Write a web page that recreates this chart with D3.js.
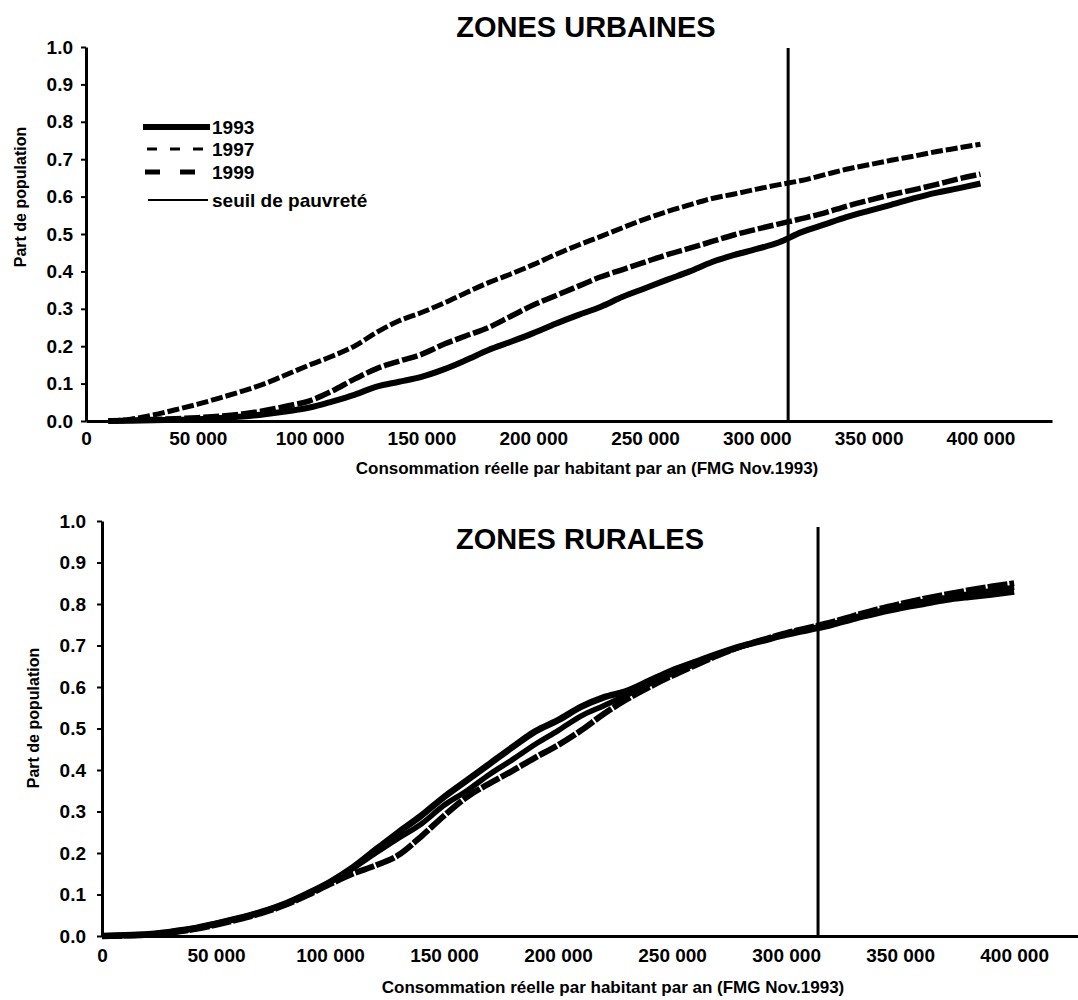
<!DOCTYPE html>
<html lang="fr">
<head>
<meta charset="UTF-8">
<title>Consommation réelle par habitant - zones urbaines et rurales</title>
<script src="https://d3js.org/d3.v7.min.js"></script>
<style>
  body { margin: 0; background: #fff; }
  svg text { font-family: "Liberation Sans", Arial, sans-serif; font-weight: bold; fill: #000; }
</style>
</head>
<body>
<svg id="chart" width="1078" height="1000"></svg>
<script>
// consommation par habitant (FMG Nov.1993) - grille commune aux courbes
var conso = [0, 10000, 20000, 30000, 40000, 50000, 60000, 70000, 80000, 90000,
             100000, 110000, 120000, 130000, 140000, 150000, 160000, 170000, 180000, 190000,
             200000, 210000, 220000, 230000, 240000, 250000, 260000, 270000, 280000, 290000,
             300000, 310000, 320000, 330000, 340000, 350000, 360000, 370000, 380000, 390000, 400000];

// part de population (cumulée) - zones urbaines
var urbain1993 = [null, 0, 0.001, 0.002, 0.003, 0.005, 0.008, 0.012, 0.018, 0.026,
                  0.036, 0.052, 0.07, 0.092, 0.105, 0.118, 0.138, 0.163, 0.19, 0.212,
                  0.235, 0.26, 0.283, 0.305, 0.332, 0.355, 0.378, 0.4, 0.425, 0.444,
                  0.46, 0.478, 0.505, 0.525, 0.545, 0.562, 0.578, 0.595, 0.61, 0.622, 0.635];
var urbain1997 = [null, 0, 0.005, 0.016, 0.03, 0.045, 0.062, 0.08, 0.1, 0.125,
                  0.15, 0.173, 0.2, 0.237, 0.268, 0.29, 0.315, 0.343, 0.37, 0.393,
                  0.418, 0.445, 0.47, 0.493, 0.517, 0.54, 0.56, 0.578, 0.595, 0.607,
                  0.62, 0.632, 0.643, 0.658, 0.673, 0.685, 0.697, 0.708, 0.72, 0.73, 0.74];
var urbain1999 = [null, 0, 0.002, 0.004, 0.006, 0.009, 0.013, 0.019, 0.028, 0.04,
                  0.054, 0.08, 0.112, 0.14, 0.16, 0.178, 0.205, 0.228, 0.25, 0.28,
                  0.31, 0.335, 0.36, 0.385, 0.405, 0.425, 0.445, 0.462, 0.48, 0.498,
                  0.513, 0.527, 0.541, 0.556, 0.574, 0.59, 0.605, 0.618, 0.632, 0.647, 0.66];

// part de population (cumulée) - zones rurales
var rural1993 = [0, 0.002, 0.004, 0.01, 0.018, 0.03, 0.043, 0.058, 0.077, 0.102,
                 0.13, 0.165, 0.208, 0.25, 0.29, 0.335, 0.375, 0.415, 0.455, 0.493,
                 0.52, 0.552, 0.575, 0.59, 0.615, 0.64, 0.66, 0.68, 0.698, 0.712,
                 0.726, 0.738, 0.75, 0.765, 0.778, 0.79, 0.8, 0.81, 0.817, 0.823, 0.83];
var rural1997 = [0, 0.002, 0.004, 0.01, 0.018, 0.03, 0.043, 0.058, 0.077, 0.102,
                 0.13, 0.163, 0.2, 0.236, 0.27, 0.315, 0.35, 0.39, 0.425, 0.462,
                 0.495, 0.53, 0.555, 0.58, 0.607, 0.632, 0.655, 0.678, 0.697, 0.713,
                 0.728, 0.74, 0.752, 0.768, 0.782, 0.795, 0.806, 0.815, 0.824, 0.832, 0.84];
var rural1999 = [0, 0.001, 0.003, 0.008, 0.016, 0.027, 0.04, 0.055, 0.074, 0.098,
                 0.125, 0.15, 0.17, 0.195, 0.24, 0.29, 0.335, 0.368, 0.398, 0.43,
                 0.46, 0.495, 0.535, 0.57, 0.6, 0.627, 0.652, 0.676, 0.697, 0.714,
                 0.73, 0.743, 0.756, 0.772, 0.787, 0.8, 0.812, 0.823, 0.833, 0.842, 0.85];

var seuilPauvrete = 314000;
var legendeLabels = ["1993", "1997", "1999", "seuil de pauvreté"];
var xTicks = [0, 50000, 100000, 150000, 200000, 250000, 300000, 350000, 400000];
var yTicks = [0, 0.1, 0.2, 0.3, 0.4, 0.5, 0.6, 0.7, 0.8, 0.9, 1.0];
var xTitre = "Consommation réelle par habitant par an (FMG Nov.1993)";
var yTitre = "Part de population";

var svg = d3.select("#chart");
svg.append("rect").attr("width", 1078).attr("height", 1000).attr("fill", "#fff");

var fmtX = function(d) { return d3.format(",")(d).replace(/,/g, " "); };
var fmtY = d3.format(".1f");

// styles des courbes (par annee), urbain / rural
var styleCourbe = {
    "1993": { w: 6, dash: null, wr: 6.5, dashr: null },
    "1997": { w: 5, dash: "12,3", wr: 5.5, dashr: null },
    "1999": { w: 5.5, dash: "16,3", wr: 6, dashr: "20,2" }
};

function drawPanel(p) {
    var x = d3.scaleLinear().domain([0, p.xMax]).range([p.left, p.right]);
    var y = d3.scaleLinear().domain([0, 1]).range([p.bottom, p.top]);
    var g = svg.append("g");

    // titre
    g.append("text").attr("x", p.titleX).attr("y", p.titleY)
        .attr("text-anchor", "middle").style("font-size", "29px").text(p.title);

    // courbes
    var line = d3.line()
        .defined(function(d) { return d[1] != null; })
        .x(function(d) { return x(d[0]); })
        .y(function(d) { return y(d[1]); })
        .curve(d3.curveMonotoneX);

    ["1997", "1999", "1993"].forEach(function(an) {
        var vals = p.series[an];
        var pts = conso.map(function(c, i) { return [c, vals[i]]; });
        var st = styleCourbe[an];
        g.append("path").datum(pts)
            .attr("fill", "none").attr("stroke", "#000")
            .attr("stroke-width", p.rural ? st.wr : st.w)
            .attr("stroke-dasharray", p.rural ? st.dashr : st.dash)
            .attr("stroke-linejoin", "round")
            .attr("d", line);
    });

    // seuil de pauvrete
    g.append("line")
        .attr("x1", x(seuilPauvrete)).attr("x2", x(seuilPauvrete))
        .attr("y1", p.seuilTop).attr("y2", y(0))
        .attr("stroke", "#000").attr("stroke-width", 3);

    // axes
    var xAxis = g.append("g").attr("transform", "translate(0," + y(0) + ")")
        .call(d3.axisBottom(x).tickValues(xTicks).tickFormat(fmtX)
            .tickSize(0).tickSizeOuter(0).tickPadding(p.xPad));
    xAxis.select(".domain").attr("stroke-width", 3);
    xAxis.selectAll("text").style("font-size", "19px")
        .style("font-family", "Liberation Sans, Arial, sans-serif");

    var yAxis = g.append("g").attr("transform", "translate(" + p.left + ",0)")
        .call(d3.axisLeft(y).tickValues(yTicks).tickFormat(fmtY)
            .tickSize(5).tickSizeOuter(0).tickPadding(p.yPad));
    yAxis.select(".domain").attr("stroke-width", 3);
    yAxis.selectAll(".tick line").attr("stroke-width", 2);
    yAxis.selectAll("text").style("font-size", "19px")
        .style("font-family", "Liberation Sans, Arial, sans-serif");

    // titres des axes
    g.append("text").attr("x", p.xTitleX).attr("y", p.xTitleY)
        .attr("text-anchor", "middle").style("font-size", "17px").text(xTitre);
    g.append("text")
        .attr("transform", "translate(" + p.yTitleX + "," + p.yTitleY + ") rotate(-90)")
        .attr("text-anchor", "middle").attr("dy", "0.35em")
        .style("font-size", "16px").text(yTitre);
}

drawPanel({
    title: "ZONES URBAINES", titleX: 586, titleY: 37,
    left: 86, right: 1052, xMax: 432000, top: 47, bottom: 421,
    seuilTop: 48, xPad: 11, yPad: 8,
    xTitleX: 587, xTitleY: 474, yTitleX: 20, yTitleY: 197,
    series: { "1993": urbain1993, "1997": urbain1997, "1999": urbain1999 }
});

drawPanel({
    title: "ZONES RURALES", titleX: 580, titleY: 549, rural: true,
    left: 102, right: 1078, xMax: 428000, top: 521, bottom: 936,
    seuilTop: 527, xPad: 13, yPad: 11,
    xTitleX: 613, xTitleY: 993, yTitleX: 33, yTitleY: 718,
    series: { "1993": rural1993, "1997": rural1997, "1999": rural1999 }
});

// legende (zones urbaines)
var legRows = [127, 149, 172, 200];
var leg = svg.append("g");
var legStyles = [
    { x1: 143, x2: 210, w: 6, dash: null },
    { x1: 147, x2: 203, w: 3, dash: "10,13" },
    { x1: 145, x2: 195, w: 5, dash: "15,20" },
    { x1: 148, x2: 208, w: 2, dash: null }
];
legendeLabels.forEach(function(lbl, i) {
    var s = legStyles[i];
    leg.append("line").attr("x1", s.x1).attr("x2", s.x2)
        .attr("y1", legRows[i]).attr("y2", legRows[i])
        .attr("stroke", "#000").attr("stroke-width", s.w)
        .attr("stroke-dasharray", s.dash);
    leg.append("text").attr("x", 212).attr("y", legRows[i]).attr("dy", "0.36em")
        .style("font-size", "19px").text(lbl);
});
</script>
</body>
</html>
